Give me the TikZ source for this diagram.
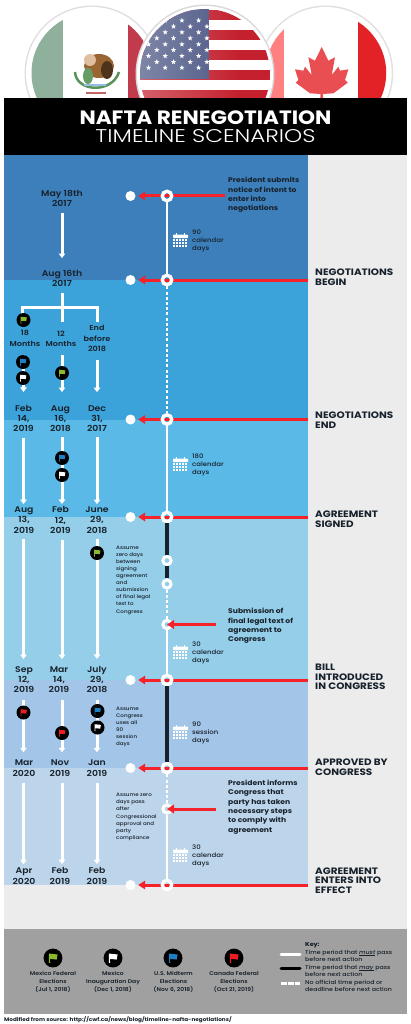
\documentclass[tikz,border=0pt]{standalone}
\usepackage{fontspec}
\setmainfont{Poppins}[FakeStretch=1.12]
\newfontfamily\lightfam{Poppins Light}[FakeStretch=1.25]
\newfontfamily\medfam{Poppins Medium}[FakeStretch=1.12]
\newfontfamily\semifam{Poppins SemiBold}[FakeStretch=1.12]
\usepackage{xcolor}
\usetikzlibrary{arrows.meta,shapes.geometric,fadings}
\definecolor{bandA}{HTML}{3C7FBB}
\definecolor{bandB}{HTML}{3CA3DA}
\definecolor{bandC}{HTML}{5AB9E6}
\definecolor{bandD}{HTML}{94CEE9}
\definecolor{bandE}{HTML}{A3C6E8}
\definecolor{bandF}{HTML}{BDD5EB}
\definecolor{paleback}{HTML}{ECECEC}
\definecolor{footback}{HTML}{A0A0A0}
\definecolor{inkdark}{HTML}{17212B}
\definecolor{arrowred}{HTML}{F5222A}
\definecolor{flaggreen}{HTML}{8DB92E}
\definecolor{flagblue}{HTML}{1F7FC4}
\definecolor{flagred}{HTML}{EE1C25}
\definecolor{mexgreen}{HTML}{8FB09B}
\definecolor{mexred}{HTML}{C23B4C}
\definecolor{canred}{HTML}{E32228}
\definecolor{usred}{HTML}{C4202E}
\definecolor{usblue}{HTML}{4B5684}
\tikzset{
        wdot/.style={circle,fill=white,inner sep=0pt,minimum size=10pt},
        ring/.style={circle,draw=white,line width=3.4pt,inner sep=0pt,minimum size=9.4pt},
        ringsmall/.style={circle,draw=white,line width=3pt,inner sep=0pt,minimum size=8.2pt},
        redarrow/.style={draw=arrowred,line width=3pt,-{Triangle[width=8.5pt,length=7pt]},shorten >=2.5pt},
        colarrow/.style={draw=white,line width=3pt,-{Triangle[width=6.5pt,length=4.5pt]}},
        wspine/.style={draw=white,line width=1.7pt},
        kspine/.style={draw=inkdark,line width=3.2pt},
        dspine/.style={draw=white,line width=1.7pt,dash pattern=on 3pt off 2.2pt},
        datelabel/.style={text=inkdark,font=\semifam\fontsize{8.3}{10.3}\selectfont,align=center,inner sep=0pt},
        spanlabel/.style={datelabel,font=\semifam\fontsize{7.2}{10.3}\selectfont},
        steplabel/.style={text=inkdark,font=\medfam\fontsize{6.2}{8}\selectfont,align=left,inner sep=0pt,anchor=west},
        sidenote/.style={text=inkdark,font=\medfam\fontsize{4.95}{7.1}\selectfont,align=left,inner sep=0pt,anchor=west},
        actlabel/.style={text=inkdark,font=\bfseries\fontsize{6.8}{9.3}\selectfont,align=left,inner sep=0pt,anchor=west},
        mainlabel/.style={text=inkdark,font=\bfseries\fontsize{9.3}{9.7}\selectfont,align=left,inner sep=0pt,anchor=west},
        footlabel/.style={text=inkdark,font=\semifam\fontsize{5.4}{7.7}\selectfont,align=center,inner sep=0pt},
        keylabel/.style={text=inkdark,font=\medfam\fontsize{5.6}{7.5}\selectfont,align=left,inner sep=0pt,anchor=north west},
        pics/calendar/.style={code={
                \foreach \cx in {-4,4} {\fill[white] (\cx-.8,-8) rectangle (\cx+.8,-5);}
                \fill[white,rounded corners=.8pt] (-7.5,-6.5) rectangle (7.5,-2.8);
                \foreach \cx in {-7.5,-4.6,-1.7,1.2,4.1} {
                        \foreach \cy in {-2.2,.7,3.6} {
                                \fill[white] (\cx,\cy) rectangle (\cx+2.4,\cy+2.4);
                        }
                }
        }},
        pics/flagpin/.style={code={
                \fill[black] (0,0) circle (7);
                \fill[#1] (-3,-3.3) .. controls (-1,-2.4) and (1,-3.6) .. (3.4,-2.6) -- (2.7,1.2) .. controls (.8,.2) and (-1,1.4) .. (-2.4,.8) -- (-2,3.6) -- (-3,3.6) -- cycle;
        }},
}
\begin{document}
\begin{tikzpicture}[x=1pt,y=-1pt]
        \pgfmathsetmacro{\sx}{167}
        \useasboundingbox (0,0) rectangle (410,1024);
        \fill[white] (0,0) rectangle (410,1024);
        % flags
        \fill[black!12] (92,73) circle (67.5);
        \fill[white] (92,73) circle (66);
        \begin{scope}
                \clip (92,73) circle (60.5);
                \fill[white] (30,0) rectangle (160,140);
                \fill[mexgreen] (30,0) rectangle (63,140);
                \fill[mexred] (128,0) rectangle (160,140);
                \fill[brown!80!black] (99,66) ellipse (15 and 12);
                \fill[brown!50!white] (90,60) ellipse (6 and 6);
                \fill[black!60!brown] (107,70) ellipse (6 and 9);
                \fill[green!35!black!60] (88,76) ellipse (5 and 8);
                \draw[green!35!black!65,line width=2.5pt] (75,72) .. controls (76,92) and (112,94) .. (119,72);
                \draw[flagblue!50!white,line width=2pt] (84,85) -- (106,85);
                \draw[red!60!black!60,line width=1.2pt] (86,93) -- (106,93);
        \end{scope}
        \fill[black!12] (325.7,73) circle (67.5);
        \fill[white] (325.7,73) circle (66);
        \begin{scope}
                \clip (325.7,73) circle (60.5);
                \fill[white] (260,0) rectangle (390,140);
                \fill[red!50!white] (260,0) rectangle (284,140);
                \fill[canred] (358,0) rectangle (390,140);
                \fill[canred!80!white] (321.7,47) -- (328.4,60.7) -- (335,57.3) -- (331.7,75) -- (338.4,66.7) -- (340,70.7) -- (348.4,69.3) -- (345,80) -- (347.7,82.7) -- (333.4,93.3) -- (323,94) -- (323,100) -- (320.4,100) -- (320.4,94) -- (310,93.3) -- (295.7,82.7) -- (298.4,80) -- (295,69.3) -- (303.4,70.7) -- (305,66.7) -- (311.7,75) -- (308.4,57.3) -- (315,60.7) -- cycle;
        \end{scope}
        \fill[black!15] (205,74) circle (69.5);
        \fill[white] (205,74) circle (68);
        \begin{scope}
                \clip (205,74) circle (65);
                \fill[white] (135,0) rectangle (275,150);
                \foreach \s in {10,30,50,70,90} {
                        \fill[usred] (135,\s) rectangle (275,\s+10);
                }
                \fill[usblue] (135,0) rectangle (209,79.5);
                \foreach \rw/\ry/\ro in {1/20.5/0,2/26.5/1,3/32.3/0,4/38.2/1,5/44.3/0,6/50/1,7/56/0,8/62/1,9/67.7/0} {
                        \foreach \cl in {0,1,2,3} {
                                \node (star\rw\cl) [star,star points=5,star point ratio=2.4,fill=white,inner sep=0pt,minimum size=5.5pt] at (148.5+\cl*16.7+\ro*8.3,\ry) {};
                        }
                }
                \fill[white,opacity=.3,path fading=east] (135,0) rectangle (240,150);
        \end{scope}
        % bands
        \fill[paleback] (4,155) rectangle (407,929);
        \fill[bandA] (4,155) rectangle (308,280);
        \fill[bandB] (4,280) rectangle (308,419.5);
        \fill[bandC] (4,419.5) rectangle (308,517);
        \fill[bandD] (4,517) rectangle (308,680);
        \fill[bandE] (4,680) rectangle (308,768);
        \fill[bandF] (4,768) rectangle (308,885);
        \fill[footback] (4,929) rectangle (407,1014);
        \fill[black] (4,98) rectangle (407,155);
        \node (title) [text=white,font=\bfseries\fontsize{19.3}{20}\selectfont,inner sep=0pt] at (205.5,117.5) {NAFTA RENEGOTIATION};
        \node (subtitle) [text=white,font=\lightfam\fontsize{18.4}{20}\selectfont,inner sep=0pt] at (205.5,136.5) {TIMELINE SCENARIOS};
        % timeline
        \foreach \n/\y/\xe in {a/196/225,b/280/308,c/419.5/308,d/517/308,h/680/308,i/768/308,k/885/308} {
                \node (dot\n) [wdot] at (130.5,\y) {};
                \coordinate (redend\n) at (\xe,\y);
                \draw[redarrow] (redend\n) -- (dot\n);
                \node (ring\n) [ring] at (\sx,\y) {};
        }
        \foreach \n/\y in {e/560.5,f/584,g/624.5,j/809} {
                \node (ring\n) [ringsmall] at (\sx,\y) {};
        }
        \foreach \p/\q in {a/b,c/d,g/h,j/k} {
                \draw[wspine] (ring\p) -- (ring\q);
        }
        \foreach \p/\q in {b/c,f/g,i/j} {
                \draw[dspine] (ring\p) -- (ring\q);
        }
        \foreach \p/\q in {d/e,e/f,h/i} {
                \draw[kspine] (ring\p) -- (ring\q);
        }
        \coordinate (redendg) at (216,624.5);
        \coordinate (redendj) at (216,809);
        \draw[redarrow,shorten >=0pt] (redendg) -- (ringg.center);
        \draw[redarrow,shorten >=0pt] (redendj) -- (ringj.center);
        % dates
        \coordinate (colA) at (23.5,0);
        \coordinate (colB) at (62,0);
        \coordinate (colC) at (97,0);
        \node (may18) [datelabel] at (62,198.5) {May 18th\\2017};
        \node (aug16) [datelabel] at (62,278.5) {Aug 16th\\2017};
        \node (m18) [spanlabel] at (25,338.5) {18\\Months};
        \node (m12) [spanlabel] at (61,338.5) {12\\Months};
        \node (end18) [spanlabel] at (97,338.5) {End\\before\\2018};
        \node (feb14) [datelabel] at (23.5,418.5) {Feb\\14,\\2019};
        \node (aug16b) [datelabel] at (60.5,418.5) {Aug\\16,\\2018};
        \node (dec31) [datelabel] at (97,418.5) {Dec\\31,\\2017};
        \node (aug13) [datelabel] at (24,520) {Aug\\13,\\2019};
        \node (feb12) [datelabel] at (60.5,520) {Feb\\12,\\2019};
        \node (jun29) [datelabel] at (97,520) {June\\29,\\2018};
        \node (sep12) [datelabel] at (24,679.5) {Sep\\12,\\2019};
        \node (mar14) [datelabel] at (59,679.5) {Mar\\14,\\2019};
        \node (jul29) [datelabel] at (97,679.5) {July\\29,\\2018};
        \node (mar20) [datelabel] at (24,768) {Mar\\2020};
        \node (nov19) [datelabel] at (60,768) {Nov\\2019};
        \node (jan19) [datelabel] at (97,768) {Jan\\2019};
        \node (apr20) [datelabel] at (24,876) {Apr\\2020};
        \node (feb19a) [datelabel] at (60,876) {Feb\\2019};
        \node (feb19b) [datelabel] at (97,876) {Feb\\2019};
        \draw[colarrow,shorten <=6pt,shorten >=12pt] (may18.south -| colB) -- (aug16.north -| colB);
        \draw[draw=white,line width=3pt] (aug16.south -| colB) ++(0,6) |- (22,307) -- (22,314);
        \draw[draw=white,line width=3pt] (aug16.south -| colB) ++(0,6) -- (62,322);
        \draw[draw=white,line width=3pt] (62,307) -| (97,322);
        \foreach \p/\q/\c in {m18/feb14/colA,m12/aug16b/colB,end18/dec31/colC} {
                \draw[colarrow,shorten <=8pt,shorten >=13pt] (\p.south -| \c) -- (\q.north -| \c);
        }
        \foreach \p/\q/\c in {feb14/aug13/colA,aug16b/feb12/colB,dec31/jun29/colC} {
                \draw[colarrow,shorten <=5.5pt,shorten >=2.5pt] (\p.south -| \c) -- (\q.north -| \c);
        }
        \foreach \p/\q/\c in {aug13/sep12/colA,feb12/mar14/colB,jun29/jul29/colC} {
                \draw[colarrow,shorten <=6pt,shorten >=7pt] (\p.south -| \c) -- (\q.north -| \c);
        }
        \foreach \p/\q/\c in {sep12/mar20/colA,mar14/nov19/colB,jul29/jan19/colC} {
                \draw[colarrow,shorten <=7pt,shorten >=7.5pt] (\p.south -| \c) -- (\q.north -| \c);
        }
        \foreach \p/\q/\c in {mar20/apr20/colA,nov19/feb19a/colB,jan19/feb19b/colC} {
                \draw[colarrow,shorten <=6.5pt,shorten >=3.5pt] (\p.south -| \c) -- (\q.north -| \c);
        }
        % election flags
        \foreach \x/\y/\fc in {23.5/320/flaggreen,23/362/flagblue,23/378/white,62/373/flaggreen,62/458/flagblue,62/475/white,97/553/flaggreen,23.5/712.5/flagred,62/733/flagred,97.5/711/flagblue,97.5/727.5/white} {
                \pic at (\x,\y) {flagpin=\fc};
        }
        % calendars
        \foreach \y/\txt in {241/90\\calendar\\days,465/180\\calendar\\days,653/30\\calendar\\days,733/90\\session\\days,856/30\\calendar\\days} {
                \pic at (180.5,\y) {calendar};
                \node (cal\y) [steplabel] at (192,\y) {\txt};
        }
        % notes
        \node (submitnote) [sidenote] at (116,580) {Assume\\zero days\\between\\signing\\agreement\\and\\submission\\of final legal\\text to\\Congress};
        \node (sessionnote) [sidenote] at (116,727) {Assume\\Congress\\uses all\\90\\session\\days};
        \node (zeronote) [sidenote] at (116,817) {Assume zero\\days pass\\after\\Congressional\\approval and\\party\\compliance};
        \node (presnote) [actlabel] at (228,195) {President submits\\notice of intent to\\enter into\\negotiations};
        \node (textnote) [actlabel] at (228,626) {Submission of\\final legal text of\\agreement to\\Congress};
        \node (compnote) [actlabel] at (228,807) {President informs\\Congress that\\party has taken\\necessary steps\\to comply with\\agreement};
        \node (negbegin) [mainlabel] at (315,277.5) {NEGOTIATIONS\\BEGIN};
        \node (negend) [mainlabel] at (315,420) {NEGOTIATIONS\\END};
        \node (signed) [mainlabel] at (315,519) {AGREEMENT\\SIGNED};
        \node (bill) [mainlabel] at (315,677) {BILL\\INTRODUCED\\IN CONGRESS};
        \node (approved) [mainlabel] at (315,767) {APPROVED BY\\CONGRESS};
        \node (effect) [mainlabel] at (315,880.5) {AGREEMENT\\ENTERS INTO\\EFFECT};
        % footer
        \foreach \x/\fc in {53/flaggreen,113/white,173/flagblue,234/flagred} {
                \pic[scale=1.35] at (\x,958) {flagpin=\fc};
        }
        \node (mexvote) [footlabel] at (53,982) {Mexico Federal\\Elections\\(Jul 1, 2018)};
        \node (mexinaug) [footlabel] at (113,982) {Mexico\\Inauguration Day\\(Dec 1, 2018)};
        \node (usvote) [footlabel] at (173.5,982) {U.S. Midterm\\Elections\\(Nov 6, 2018)};
        \node (canvote) [footlabel] at (234,982) {Canada Federal\\Elections\\(Oct 21, 2019)};
        \node (key) [keylabel] at (305,942.5) {\textbf{Key:}\\Time period that \underline{\smash{\textit{must}}} pass\\before next action\\Time period that \underline{\smash{\textit{may}}} pass\\before next action\\No official time period or\\deadline before next action};
        \coordinate (keyAa) at (281,954);
        \coordinate (keyAb) at (300,954);
        \coordinate (keyBa) at (281,968.5);
        \coordinate (keyBb) at (300,968.5);
        \coordinate (keyCa) at (281,983);
        \coordinate (keyCb) at (300,983);
        \draw[white,line width=3pt,line cap=round] (keyAa) -- (keyAb);
        \draw[black,line width=3pt,line cap=round] (keyBa) -- (keyBb);
        \draw[white,line width=3pt,dash pattern=on 6pt off 1.2pt] (keyCa) -- (keyCb);
        \node (source) [anchor=west,text=inkdark,font=\bfseries\fontsize{5.1}{6}\selectfont,inner sep=0pt] at (4,1020) {Modified from source: http://cwf.ca/news/blog/timeline-nafta-negotiations/};
\end{tikzpicture}
\end{document}
